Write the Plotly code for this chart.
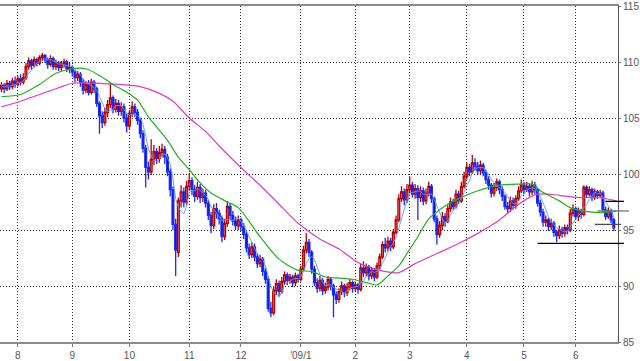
import plotly.graph_objects as go
import pandas as pd

# ---- data (daily candles, index = trading day) ----
close_ = [107.9,107.6,108.1,107.8,108.3,108.0,108.5,108.2,108.6,109.6,
          110.1,109.7,110.2,109.9,110.4,110.6,110.2,109.8,110.3,109.6,
          109.9,109.5,109.8,110.0,109.4,109.5,109.1,108.6,108.9,108.2,
          107.5,108.0,107.3,108.2,107.6,106.3,105.2,104.6,105.5,106.2,
          106.8,105.8,106.3,105.6,106.0,105.0,104.3,105.4,106.0,105.5,
          104.8,103.6,102.3,100.6,100.2,101.3,102.0,101.4,101.9,102.2,
          101.5,100.2,98.6,95.5,93.2,97.6,98.4,97.5,98.9,99.4,
          98.6,98.0,98.8,97.9,98.3,97.4,96.3,95.4,96.9,96.5,
          96.0,94.4,95.6,97.1,96.3,95.8,95.4,95.9,95.3,94.6,
          93.4,92.8,93.5,92.6,92.0,92.4,91.3,90.6,88.0,87.6,
          89.6,90.2,89.5,90.4,91.0,90.5,90.8,90.3,90.9,90.6,
          91.5,93.2,93.9,93.0,91.5,90.3,89.8,90.5,89.6,89.9,
          90.6,90.0,89.2,88.8,89.5,90.0,89.4,89.9,90.3,89.8,
          90.1,89.7,91.6,91.2,91.7,90.9,91.4,90.8,91.8,92.6,
          93.7,93.4,94.0,93.5,94.8,95.9,97.8,98.4,97.7,98.6,
          99.0,98.2,98.7,97.9,98.5,97.6,98.3,98.9,97.8,96.0,
          94.6,95.4,96.2,95.8,96.9,97.5,97.1,98.2,97.6,98.9,
          99.8,100.6,100.2,101.0,100.7,100.3,100.8,100.1,99.5,99.0,
          98.3,98.8,99.3,98.6,98.0,97.1,96.9,97.6,97.2,97.8,
          98.5,99.0,98.6,98.9,98.4,99.0,98.6,97.4,96.6,95.7,
          95.9,95.3,95.6,94.8,94.5,95.0,94.7,95.2,95.0,96.5,
          96.9,96.2,96.7,96.4,98.8,98.2,98.6,97.9,98.4,98.1,
          98.3,96.8,96.2,96.7,95.9,95.2]

open_ = [107.6,107.9,107.6,108.1,107.8,108.3,108.0,108.5,108.2,108.6,
         109.6,110.1,109.7,110.2,109.9,110.4,110.6,110.2,109.8,110.3,
         109.6,109.9,109.5,109.8,110.0,109.4,109.5,109.1,108.6,108.9,
         108.2,107.5,108.0,107.3,108.2,107.6,106.3,105.2,104.6,105.5,
         106.2,106.8,105.8,106.3,105.6,106.0,105.0,104.3,105.4,106.0,
         105.5,104.8,103.6,102.3,100.6,100.2,101.3,102.0,101.4,101.9,
         102.2,101.5,100.2,98.6,95.5,93.0,97.6,98.4,97.5,98.9,
         99.4,98.6,98.0,98.8,97.9,98.3,97.4,96.3,95.4,96.9,
         96.5,96.0,94.4,95.6,97.1,96.3,95.8,95.4,95.9,95.3,
         94.6,93.4,92.8,93.5,92.6,92.0,92.4,91.3,90.6,88.0,
         87.6,89.6,90.2,89.5,90.4,91.0,90.5,90.8,90.3,90.9,
         90.6,91.5,93.2,93.9,93.0,91.5,90.3,89.8,90.5,89.6,
         89.9,90.6,90.0,89.2,88.8,89.5,90.0,89.4,89.9,90.3,
         89.8,90.1,89.7,91.6,91.2,91.7,90.9,91.4,90.8,91.8,
         92.6,93.7,93.4,94.0,93.5,94.8,95.9,97.8,98.4,97.7,
         98.6,99.0,98.2,98.7,97.9,98.5,97.6,98.3,98.9,97.8,
         96.0,94.6,95.4,96.2,95.8,96.9,97.5,97.1,98.2,97.6,
         98.9,99.8,100.6,100.2,101.0,100.7,100.3,100.8,100.1,99.5,
         99.0,98.3,98.8,99.3,98.6,98.0,97.1,96.9,97.6,97.2,
         97.8,98.5,99.0,98.6,98.9,98.4,99.0,98.6,97.4,96.6,
         95.7,95.9,95.3,95.6,94.8,94.5,95.0,94.7,95.2,95.0,
         96.5,96.9,96.2,96.7,96.4,98.8,98.2,98.6,97.9,98.4,
         98.1,98.3,96.8,96.2,96.7,95.9]

high_ = [108.2,108.1,108.4,108.3,108.6,108.7,108.8,108.9,109.0,109.9,
         110.4,110.3,110.5,110.4,110.6,110.8,110.7,110.4,110.6,110.5,
         110.2,110.1,110.1,110.3,110.2,109.9,109.7,109.3,109.2,109.1,
         108.5,108.3,108.4,108.5,108.4,107.8,106.5,105.6,105.9,106.6,
         108.1,107.0,106.7,106.6,106.4,106.3,105.4,105.7,106.5,106.3,
         105.8,105.0,103.9,102.6,101.1,103.1,102.6,102.3,102.5,102.7,
         102.5,101.8,100.5,98.9,96.0,97.9,99.0,98.8,99.4,100.1,
         99.7,99.0,99.3,99.1,98.7,98.6,97.7,96.6,97.3,97.4,
         96.8,96.3,96.0,97.6,97.4,96.7,96.2,96.3,96.1,95.6,
         94.9,93.8,93.9,93.8,92.9,92.8,92.6,91.6,90.9,88.6,
         89.9,90.6,90.5,90.8,91.3,91.2,91.1,91.0,91.2,91.1,
         91.8,93.6,94.7,94.2,93.2,91.8,90.7,90.9,90.7,90.3,
         90.9,90.8,90.2,89.5,89.8,90.4,90.2,90.3,90.6,90.5,
         90.4,90.3,92.0,92.2,92.0,91.9,91.7,91.6,92.1,92.9,
         94.0,94.3,94.4,94.3,95.1,96.3,98.2,98.9,98.7,99.1,
         99.8,99.3,99.1,99.0,98.9,98.8,98.7,99.3,99.1,98.0,
         96.3,95.8,96.6,96.5,97.2,97.9,97.8,98.6,98.5,99.3,
         100.2,101.0,100.9,101.7,101.4,101.1,101.2,101.0,100.4,99.8,
         99.2,99.2,99.6,99.5,98.9,98.2,97.5,98.0,97.9,98.1,
         98.9,99.5,99.3,99.3,99.1,99.4,99.3,98.8,97.7,96.9,
         96.3,96.1,96.0,95.8,95.0,95.4,95.3,95.5,95.5,96.9,
         97.3,97.1,97.0,96.9,99.0,99.0,98.9,98.8,98.7,98.6,
         98.6,98.5,97.1,97.0,96.9,96.1]

low_ = [107.3,107.2,107.4,107.5,107.6,107.7,107.8,107.9,108.0,108.4,
        109.3,109.3,109.5,109.6,109.7,110.1,109.9,109.4,109.6,109.3,
        109.3,109.2,109.2,109.5,109.1,109.0,108.7,108.2,108.3,107.8,
        107.1,107.2,107.0,107.1,107.2,106.0,103.6,104.1,104.3,105.1,
        105.9,105.4,105.5,105.2,105.2,104.6,103.7,104.0,105.1,105.1,
        104.4,103.2,101.9,98.8,99.5,99.9,100.8,100.9,101.0,101.5,
        100.9,99.8,98.0,95.0,90.9,92.6,97.0,97.0,97.2,98.5,
        98.1,97.5,97.7,97.4,97.5,97.0,95.9,94.7,95.1,96.0,
        95.5,93.9,94.1,95.3,95.9,95.4,95.0,95.0,94.9,94.2,
        93.0,92.4,92.5,92.2,91.6,91.7,90.9,90.2,87.7,87.2,
        87.4,89.2,89.1,89.3,90.1,90.1,90.2,89.9,90.0,90.3,
        90.4,91.3,92.9,92.6,91.1,90.0,89.4,89.5,89.2,89.3,
        89.6,89.6,87.2,88.4,88.5,89.2,89.0,89.1,89.6,89.4,
        89.5,89.3,89.5,90.8,90.9,90.5,90.6,90.4,90.6,91.5,
        92.4,93.0,93.1,93.1,93.3,94.6,95.7,97.5,97.2,97.4,
        98.3,97.9,97.8,95.9,97.5,97.2,97.3,98.0,97.4,95.7,
        93.7,94.3,95.0,95.3,95.6,96.6,96.8,96.9,97.3,97.4,
        98.7,99.5,99.8,100.0,100.3,99.9,100.0,99.8,99.1,98.6,
        97.9,98.0,98.5,98.2,97.6,96.8,96.5,96.6,96.8,96.9,
        97.6,98.3,98.2,98.4,98.0,98.1,98.2,97.1,96.2,95.3,
        95.3,94.9,95.0,94.4,93.9,94.2,94.3,94.4,94.6,94.8,
        96.2,95.9,95.8,96.0,96.2,97.9,98.0,97.6,97.7,97.8,
        97.9,96.5,95.9,96.0,95.6,94.9]

ma25_idx = [0,7,14,20,26,31,36,41,46,50,54,61,65,69,73,77,83,87,95,102,109,114,
            119,124,129,134,138,142,146,149,153,157,161,164,168,175,183,190,195,
            198,205,209,217,223,226]
ma25_val = [106.9,107.1,108.0,109.0,109.4,109.4,108.8,108.0,107.3,106.6,105.1,
            103.0,101.5,100.4,99.2,98.3,97.5,97.0,94.4,92.4,91.4,91.3,90.8,90.7,
            90.6,90.3,90.1,90.9,91.8,92.9,94.4,96.0,96.8,97.3,97.8,98.5,99.0,99.1,
            99.1,98.5,97.6,97.0,96.6,96.6,96.7]
ma75_idx = [0,7,14,21,26,36,43,51,58,63,69,75,80,87,95,102,109,117,124,131,139,
            146,152,160,168,175,183,190,197,205,212,219,226]
ma75_val = [106.0,106.5,107.1,107.7,108.1,108.1,108.0,107.8,107.2,106.5,105.0,
            103.8,102.5,100.8,99.0,97.3,95.6,94.2,93.3,92.1,91.4,91.2,92.0,92.9,
            93.8,94.7,95.9,97.3,98.2,98.1,97.9,97.9,97.6]

month_idx = [6, 26, 47, 69, 88, 110, 130, 150, 171, 192, 211]
month_lbl = ["8", "9", "10", "11", "12", "'09/1", "2", "3", "4", "5", "6"]

hl_level = [97.56, 96.7, 95.5, 93.8]
hl_start = [222, 219, 218, 197]
hl_color = ["#000000", "#70708c", "#4a4a6a", "#000000"]
hl_end_paper = [1.0097, 1.0177, 1.0048, 1.0097]

# ---- figure ----
idx = list(range(len(close_)))
ma5 = pd.Series(close_).rolling(5, min_periods=1).mean()

XMIN, XMAX = -0.55, 226.55

fig = go.Figure()
fig.add_trace(go.Candlestick(
    x=idx, open=open_, high=high_, low=low_, close=close_,
    increasing=dict(line=dict(color="#b80000", width=1.3), fillcolor="#f08c8c"),
    decreasing=dict(line=dict(color="#1a2cf0", width=1.3), fillcolor="#0008e0"),
    whiskerwidth=0, hoverinfo="skip", showlegend=False))
fig.add_trace(go.Scatter(x=ma75_idx, y=ma75_val, mode="lines",
                         line=dict(color="#e03cc8", width=1.2, shape="spline", smoothing=0.8),
                         hoverinfo="skip", showlegend=False))
fig.add_trace(go.Scatter(x=ma25_idx, y=ma25_val, mode="lines",
                         line=dict(color="#20b020", width=1.2, shape="spline", smoothing=0.8),
                         hoverinfo="skip", showlegend=False))
fig.add_trace(go.Scatter(x=idx, y=ma5, mode="lines",
                         line=dict(color="#5a9aff", width=0.9),
                         hoverinfo="skip", showlegend=False))

for lv, st, col, endp in zip(hl_level, hl_start, hl_color, hl_end_paper):
    x0p = (st - XMIN) / (XMAX - XMIN)
    fig.add_shape(type="line", xref="paper", yref="y", x0=x0p, x1=endp, y0=lv, y1=lv,
                  line=dict(color=col, width=1.3))

fig.update_layout(
    width=640, height=361,
    margin=dict(l=0, r=20, t=4, b=13),
    paper_bgcolor="white", plot_bgcolor="white",
    boxgap=0.05,
    font=dict(family="Liberation Sans, Arial, sans-serif", size=10, color="#555555"),
    xaxis=dict(range=[XMIN, XMAX], tickvals=month_idx, ticktext=month_lbl,
               showgrid=True, gridcolor="#2a2a2a", griddash="1px,2px", gridwidth=1,
               showline=True, linecolor="#8a8a8a", linewidth=1.5, mirror=True,
               ticks="outside", ticklen=3, tickcolor="#777777",
               ticklabeloverflow="allow",
               rangeslider=dict(visible=False), zeroline=False, fixedrange=True),
    yaxis=dict(range=[85, 115], side="right", tickvals=[85, 90, 95, 100, 105, 110, 115],
               showgrid=True, gridcolor="#2a2a2a", griddash="1px,2px", gridwidth=1,
               showline=True, linecolor="#555555", linewidth=1,
               ticks="outside", ticklen=2, tickcolor="#777777",
               ticklabeloverflow="allow",
               zeroline=False, fixedrange=True),
)

fig.write_html("out.html")
